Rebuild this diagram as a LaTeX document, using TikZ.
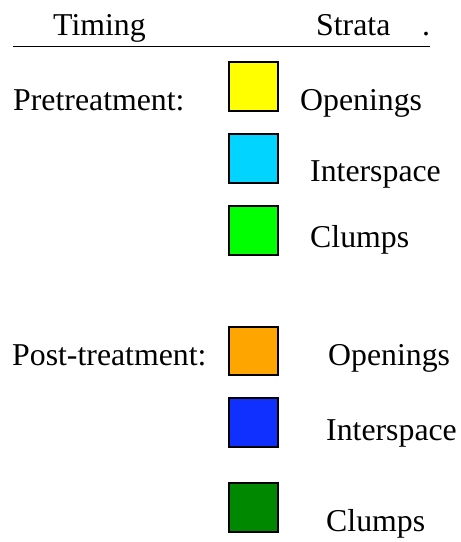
\documentclass[tikz,border=0pt]{standalone}
\usepackage{fontspec}
\setmainfont{Liberation Serif}
\definecolor{cYellow}{HTML}{FFFF00}
\definecolor{cCyan}{HTML}{00D4FF}
\definecolor{cGreen}{HTML}{00FF00}
\definecolor{cOrange}{HTML}{FFA500}
\definecolor{cBlue}{HTML}{1030FF}
\definecolor{cDark}{HTML}{008800}
\begin{document}
\begin{tikzpicture}[x=1pt,y=-1pt,
  lbl/.style={anchor=base west,inner sep=0pt,font=\fontsize{31.8}{38}\selectfont},
  swatch/.style={draw=black,line width=1.3pt}]
\useasboundingbox (0,0) rectangle (461,542);
% header
\node[lbl] (timing) at (53,35) {Timing};
\node[lbl] (strata) at (316,35) {Strata};
\node[lbl] (dot) at (422,35) {.};
\coordinate (ulA) at (13,46.5);
\coordinate (ulB) at (430,46.5);
\draw[line width=1.3pt] (ulA) -- (ulB);
% timing labels
\node[lbl] (pre) at (13,110) {Pretreatment:};
\node[lbl] (post) at (12,365) {Post-treatment:};
% swatches
\draw[swatch,fill=cYellow] (229,62) rectangle (278,111);
\draw[swatch,fill=cCyan] (229,134) rectangle (278,183);
\draw[swatch,fill=cGreen] (229,206) rectangle (278,255);
\draw[swatch,fill=cOrange] (229,327) rectangle (278,375);
\draw[swatch,fill=cBlue] (229,398) rectangle (278,447);
\draw[swatch,fill=cDark] (229,483) rectangle (278,532);
% strata labels
\node[lbl] (o1) at (300,110) {Openings};
\node[lbl] (i1) at (310,181) {Interspace};
\node[lbl] (c1) at (310,247) {Clumps};
\node[lbl] (o2) at (328,365) {Openings};
\node[lbl] (i2) at (326,440) {Interspace};
\node[lbl] (c2) at (326,531) {Clumps};
\end{tikzpicture}
\end{document}
